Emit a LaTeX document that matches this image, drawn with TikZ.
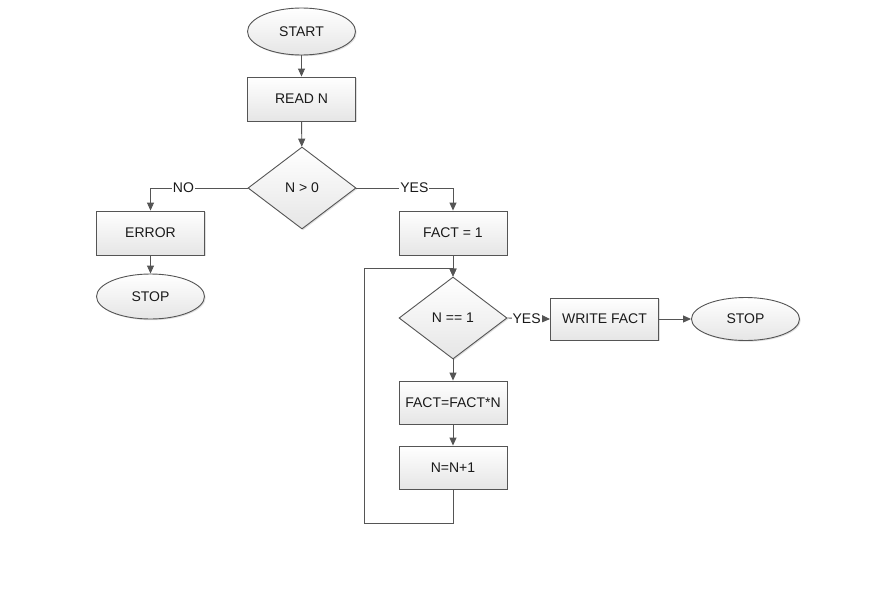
\documentclass[tikz,border=0pt]{standalone}
\usepackage{fontspec}
\setmainfont{Liberation Sans}
\usetikzlibrary{shapes.geometric,arrows.meta,shadows}
\definecolor{edge}{HTML}{555555}
\definecolor{ink}{HTML}{1A1A1A}
\tikzset{
  base/.style={draw=edge, line width=0.9pt, top color=white, bottom color=black!10,
    text=ink, font=\fontsize{14}{16}\selectfont, inner sep=0pt,
    drop shadow={shadow xshift=1.2pt, shadow yshift=-1.2pt, opacity=0.25}},
  procbox/.style={base, rectangle, minimum width=108pt, minimum height=43pt},
  termin/.style={base, ellipse, minimum width=108pt, minimum height=45pt},
  decide/.style={base, diamond, minimum width=108pt, minimum height=82pt},
  arr/.style={draw=edge, line width=0.9pt, -{Triangle[length=8pt,width=7pt]}},
  plain/.style={draw=edge, line width=0.9pt},
  lbl/.style={fill=white, inner sep=1pt, text=ink, font=\fontsize{14}{16}\selectfont}
}
\begin{document}
\begin{tikzpicture}[x=1pt,y=-1pt]
\useasboundingbox[fill=white] (0,0) rectangle (872,597);
\node[termin, minimum height=47pt] (start) at (301.5,31.5) {START};
\node[procbox, minimum height=44pt] (read) at (301.5,99) {READ N};
\node[decide] (dec1) at (302,188) {N > 0};
\node[procbox, minimum height=44pt] (error) at (150.5,233) {ERROR};
\node[termin] (stop1) at (150.5,296.5) {STOP};
\node[procbox, minimum height=44pt] (fact1) at (453,233) {FACT = 1};
\node[decide] (dec2) at (453,318) {N == 1};
\node[procbox, minimum height=42pt] (write) at (604.5,319) {WRITE FACT};
\node[termin, minimum height=43pt] (stop2) at (745.5,319) {STOP};
\node[procbox] (factn) at (453,402.5) {FACT=FACT*N};
\node[procbox] (inc) at (453,467.5) {N=N+1};
\coordinate (lb) at (364.7,523);
\coordinate (lt) at (364.7,268);

\draw[arr] (start) -- (read);
\draw[arr] (read) -- (dec1);
\draw[arr] (dec1.west) -| node[lbl, pos=0.33] {NO} (error.north);
\draw[arr] (dec1.east) -| node[lbl, pos=0.30] {YES} (fact1.north);
\draw[arr] (error) -- (stop1);
\draw[arr] (fact1) -- (dec2);
\draw[arr] (dec2.east) -- node[lbl, pos=0.45] {YES} (write.west);
\draw[arr] (write) -- (stop2);
\draw[arr] (dec2) -- (factn);
\draw[arr] (factn) -- (inc);
\draw[arr] (inc.south) |- (lb) -- (lt) -| (dec2.north);
\end{tikzpicture}
\end{document}
